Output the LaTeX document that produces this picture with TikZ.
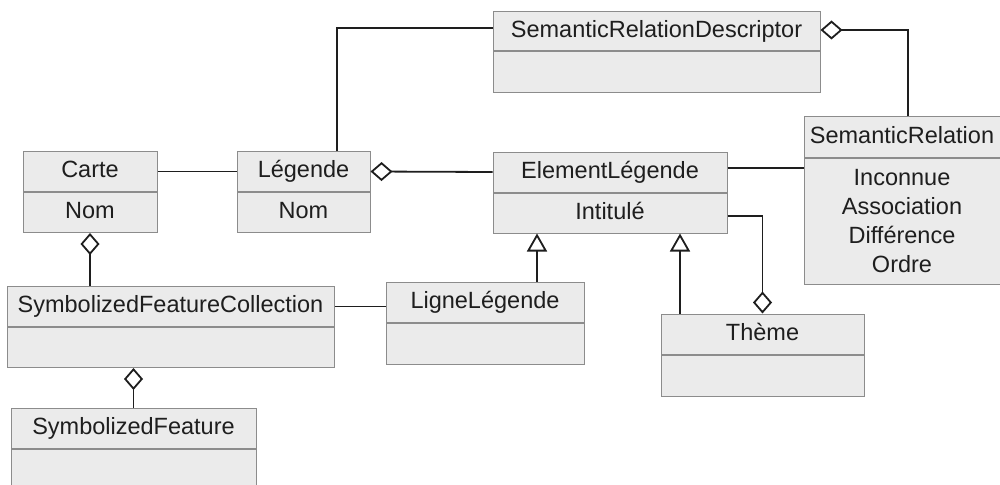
\documentclass[tikz,border=0pt]{standalone}
\usepackage{fontspec}
\setmainfont{Liberation Sans}
\usepackage{xcolor}
\usetikzlibrary{arrows.meta, positioning, calc}

\definecolor{boxfill}{HTML}{EBEBEB}
\definecolor{boxline}{HTML}{8C8C8C}
\definecolor{linkcol}{HTML}{1E1E1E}

\begin{document}
\begin{tikzpicture}[
    x=1pt, y=-1pt,
    cls/.style={rectangle, draw=boxline, fill=boxfill, line width=1pt, inner sep=0pt, minimum height=40pt, text=linkcol, font=\fontsize{23.5}{29.3}\selectfont, text height=17pt, text depth=5pt},
    attr/.style={cls, below=0pt of #1},
    link/.style={draw=linkcol, line width=1.8pt},
    aggr/.style={link, -{Diamond[open, length=22pt, width=19pt]}},
    gen/.style={link, -{Triangle[open, length=18pt, width=20pt]}}
]
\clip (0,0) rectangle (1000,484);
\fill[white] (0,0) rectangle (1000,484);

% classes de la carte
\node[cls, minimum width=134pt] (carte) at (90,171.5) {Carte};
\node[attr=carte, minimum width=134pt] (carteA) {Nom};

\node[cls, minimum width=133pt] (legende) at (303.5,171.5) {Légende};
\node[attr=legende, minimum width=133pt] (legendeA) {Nom};

\node[cls, minimum width=327pt] (sfc) at (170.5,306.5) {SymbolizedFeatureCollection};
\node[attr=sfc, minimum width=327pt] (sfcA) {};

\node[cls, minimum width=245pt] (sf) at (133.5,428.5) {SymbolizedFeature};
\node[attr=sf, minimum width=245pt, minimum height=41pt] (sfA) {};

% elements de legende
\node[cls, minimum width=234pt] (elem) at (610,172) {ElementLégende};
\node[attr=elem, minimum width=234pt] (elemA) {Intitulé};

\node[cls, minimum width=198pt] (ligne) at (485,302) {LigneLégende};
\node[attr=ligne, minimum width=198pt, minimum height=41pt] (ligneA) {};

\node[cls, minimum width=203pt] (theme) at (762.5,334) {Thème};
\node[attr=theme, minimum width=203pt, minimum height=41pt] (themeA) {};

% relations semantiques
\node[cls, minimum width=327pt, minimum height=39pt] (srd) at (656.5,31.5) {SemanticRelationDescriptor};
\node[attr=srd, minimum width=327pt, minimum height=41pt] (srdA) {};

\node[cls, minimum width=196pt] (semrel) at (902,137) {SemanticRelation};
\node[attr=semrel, minimum width=196pt, minimum height=126pt, text height=, text depth=, align=center] (semrelA) {Inconnue\\Association\\Différence\\Ordre};

% associations
\draw[link] (carte.east) -- (legende.west);
\draw[aggr] (elem.west) -- (legende.east);
\draw[link] ([xshift=33.5pt]legende.north) |- ([yshift=3.5pt]srd.west);
\draw[aggr] ([xshift=6pt]semrel.north) |- ([yshift=1.5pt]srd.east);
\draw[link] ([yshift=4pt]elem.east) -- ([yshift=4pt]elem.east -| semrelA.west);
\draw[aggr] ([yshift=-3pt]elemA.east) -| (theme.north);
\draw[link] (sfc.east) -- (sfc.east -| ligne.west);
\draw[aggr] (sfc.north -| carteA.south) -- (carteA.south);
\draw[aggr] (sf.north) -- (sf.north |- sfcA.south);

% heritage
\draw[gen] ([xshift=52pt]ligne.north) -- ([xshift=52pt]ligne.north |- elemA.south);
\draw[gen] ([xshift=-82.5pt]theme.north) -- ([xshift=-82.5pt]theme.north |- elemA.south);

\end{tikzpicture}
\end{document}
